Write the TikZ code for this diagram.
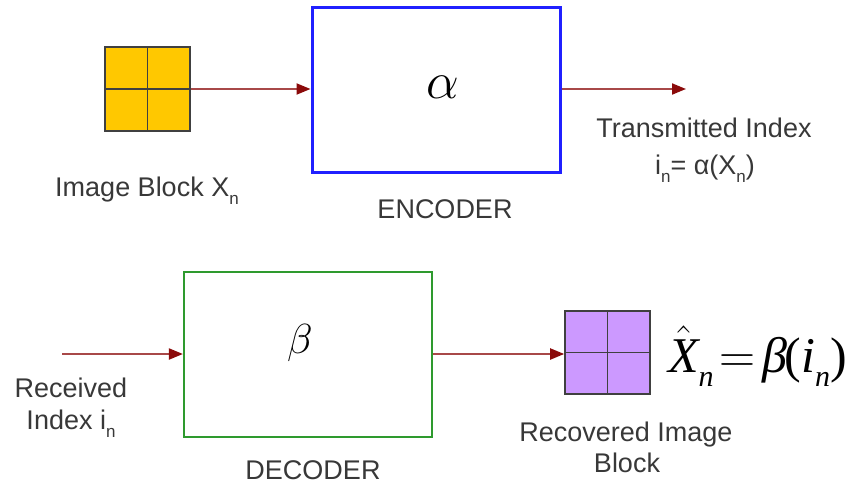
\RequirePackage{fix-cm}
\documentclass[tikz,border=0pt]{standalone}
\usepackage{fontspec}
\setmainfont{Liberation Sans}
\newfontfamily\tms{Liberation Serif}
\usetikzlibrary{arrows.meta}
\definecolor{arrowred}{HTML}{A84848}
\definecolor{tipred}{HTML}{8B0A0A}
\definecolor{txtgray}{HTML}{383838}
\definecolor{blockyellow}{HTML}{FFC800}
\definecolor{blockpurple}{HTML}{CC99FF}
\definecolor{encblue}{HTML}{2020FF}
\definecolor{decgreen}{HTML}{2E9A2E}
% lowered small "n" subscript used in the sans labels
\newcommand{\lown}{\raisebox{-0.32em}{\fontsize{17}{17}\selectfont n}}
% lowered italic serif "n" subscript for the output formula
\newcommand{\serifn}{\raisebox{-0.28em}{\fontsize{30}{30}\selectfont\itshape n}}
\tikzset{
  flow/.style={draw=arrowred, line width=2pt, -{Triangle[length=14pt,width=11pt,color=tipred,fill=tipred]}},
  lbl/.style={text=txtgray, font=\fontsize{27}{33}\selectfont, align=center, inner sep=0pt},
  cell/.style={draw=black!75, line width=1.6pt},
}
\begin{document}
\begin{tikzpicture}[x=1pt,y=-1pt]
\useasboundingbox (0,0) rectangle (849,485);

% ---- encoder row ----
\node[draw=encblue, line width=3pt, minimum width=248pt, minimum height=165pt, inner sep=0pt] (enc) at (436,89.5) {};
\node[font=\fontsize{52}{58}\selectfont, inner sep=0pt] (alpha) at (443,87) {$\alpha$};
\node[fill=blockyellow, cell, minimum width=85pt, minimum height=84pt, inner sep=0pt] (xin) at (147.5,89) {};
\draw[cell] (xin.north) -- (xin.south);
\draw[cell] (xin.west) -- (xin.east);
\coordinate (tout) at (686,89);
\draw[flow] (xin.east) -- (enc.west |- xin.east);
\draw[flow] (enc.east |- tout) -- (tout);

\node[lbl, anchor=base] (imgblk) at (147,196) {Image Block X\lown};
\node[lbl, anchor=base] (encl) at (445,218) {ENCODER};
\node[lbl, anchor=base] (tx1) at (704,137) {Transmitted Index};
\node[lbl, anchor=base] (tx2) at (705,174) {i\lown= α(X\lown)};

% ---- decoder row ----
\node[draw=decgreen, line width=2.2pt, minimum width=248pt, minimum height=165pt, inner sep=0pt] (dec) at (308,354.5) {};
\node[font=\fontsize{42}{48}\selectfont, inner sep=0pt] (beta) at (300,343) {$\beta$};
\node[fill=blockpurple, cell, minimum width=85pt, minimum height=83pt, inner sep=0pt] (xout) at (607.5,352.5) {};
\draw[cell] (xout.north) -- (xout.south);
\draw[cell] (xout.west) -- (xout.east);
\coordinate (rin) at (62,354);
\draw[flow] (rin) -- (dec.west |- rin);
\draw[flow] (dec.east |- rin) -- (xout.west |- rin);

% reconstructed block formula, set in a Times-like serif
\node[font=\fontsize{50}{56}\selectfont\tms, anchor=base west, inner sep=0pt] (formula) at (668,372)
  {$\hat{\hbox{\itshape X}}$\serifn\kern6pt$=$\kern7pt{\itshape β}\kern-3pt({\itshape i}\serifn)};

\node[lbl, anchor=base] (rx1) at (71,397) {Received};
\node[lbl, anchor=base] (rx2) at (71,429) {Index i\lown};
\node[lbl, anchor=base] (decl) at (313,479) {DECODER};
\node[lbl, anchor=base] (rec1) at (626,441) {Recovered Image};
\node[lbl, anchor=base] (rec2) at (627,472) {Block};
\end{tikzpicture}
\end{document}
